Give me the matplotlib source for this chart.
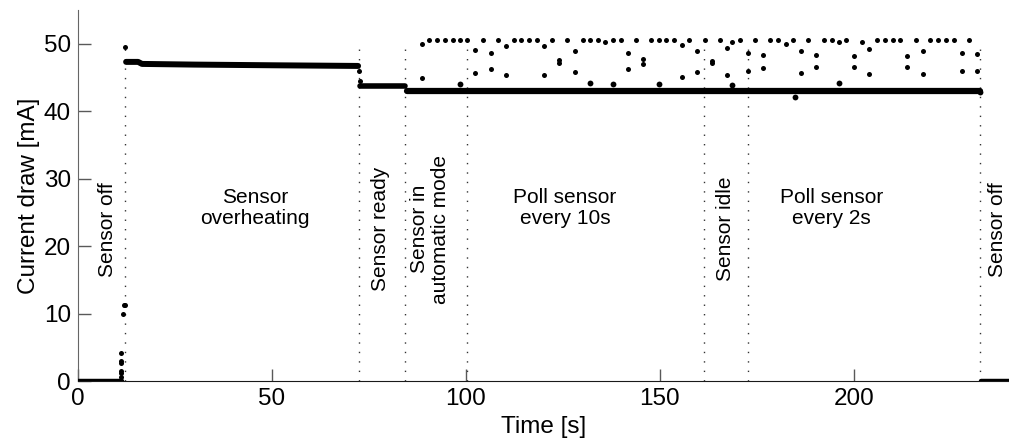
import numpy as np
import matplotlib.pyplot as plt

plt.rcParams["font.family"] = ["Liberation Sans", "DejaVu Sans"]

# continuous parts of the trace: (time [s], current [mA]) breakpoints
seg_t = [[0, 11.3], [12.4, 15.5, 16.5, 30, 50, 72.2], [72.8, 84.2],
         [84.7, 232.5], [232.8, 240]]
seg_i = [[0, 0], [47.3, 47.3, 47.0, 46.9, 46.8, 46.7], [43.8, 43.8],
         [42.95, 42.95], [0, 0]]
seg_w = [3.2, 4.3, 4.0, 4.5, 3.2]

# isolated samples (sensor start-up and the polling spikes)
rise_t = [11.0, 11.05, 11.1, 11.1, 11.05, 11.15, 11.7, 11.9, 12.0, 12.2, 72.4, 72.7]
rise_i = [4.1, 2.9, 2.6, 1.5, 0.6, 1.2, 10.0, 11.2, 11.3, 49.5, 46.0, 44.4]

top_t = [90.5, 92.6, 94.6, 96.6, 98.5, 100.4, 104.5, 108.3, 112.4, 114.3,
         116.3, 118.2, 122.2, 126.1, 130.1, 132.0, 134.1, 135.8, 138.0, 139.9,
         143.8, 147.8, 149.8, 151.7, 153.6, 157.6, 161.6, 165.5, 168.7, 170.6,
         174.5, 178.5, 180.5, 182.5, 184.4, 188.2, 192.3, 194.3, 196.2, 198.1,
         202.1, 206.0, 208.0, 210.0, 211.8, 215.9, 219.7, 221.8, 223.7, 225.8,
         229.8]
top_i = [50.5, 50.5, 50.5, 50.5, 50.5, 50.5, 50.5, 50.5, 50.5, 50.5,
         50.5, 50.5, 50.5, 50.5, 50.5, 50.5, 50.5, 50.2, 50.5, 50.5,
         50.5, 50.5, 50.5, 50.5, 50.5, 50.5, 50.5, 50.5, 50.3, 50.5,
         50.5, 50.5, 50.5, 50.0, 50.5, 50.5, 50.5, 50.5, 50.3, 50.5,
         50.2, 50.5, 50.5, 50.5, 50.5, 50.5, 50.5, 50.5, 50.5, 50.5,
         50.5]

mid_t = [88.6, 88.6, 102.3, 102.3, 106.4, 106.4, 110.3, 110.3, 120.2, 120.2,
         124.0, 124.0, 128.1, 128.1, 141.9, 141.9, 145.7, 145.7, 155.6, 155.6,
         159.6, 159.6, 163.5, 163.5, 167.4, 167.4, 172.6, 172.6, 176.5, 176.5,
         186.3, 186.3, 190.2, 190.2, 200.1, 200.1, 203.9, 203.9, 213.8, 213.8,
         217.9, 217.9, 227.8, 227.8, 231.7, 231.7]
mid_i = [49.9, 44.9, 49.1, 45.7, 48.6, 46.2, 49.7, 45.3, 49.7, 45.3,
         47.6, 47.1, 48.9, 45.8, 48.6, 46.2, 47.8, 47.0, 49.8, 45.1,
         48.9, 45.8, 47.5, 47.2, 49.4, 45.4, 48.6, 45.9, 48.3, 46.4,
         48.9, 45.7, 48.3, 46.5, 48.2, 46.6, 49.2, 45.5, 48.2, 46.6,
         48.9, 45.5, 48.6, 45.9, 48.5, 46.0]

bump_t = [98.5, 132.0, 138.0, 149.8, 168.7, 184.8, 196.2, 232.5]
bump_i = [44.0, 44.1, 44.0, 44.0, 43.9, 42.1, 44.1, 42.8]

# phase boundaries and labels
phase_t = [12.2, 72.4, 84.4, 100.3, 161.3, 172.8, 232.5]
label_t = [7.7, 45.6, 78.1, 90.7, 125.5, 167.0, 194.3, 237.0]
label_txt = ["Sensor off", "Sensor\noverheating", "Sensor ready",
             "Sensor in\nautomatic mode", "Poll sensor\nevery 10s",
             "Sensor idle", "Poll sensor\nevery 2s", "Sensor off"]
label_rot = [90, 0, 90, 90, 0, 90, 0, 90]

fig = plt.figure(figsize=(10.09, 4.46), dpi=100)
ax = fig.add_axes([0.0773, 0.1457, 0.9227, 0.832])

for t in phase_t:
    ax.plot([t, t], [0, 50], color="0.2", lw=1.0, ls=(0, (1, 5.8)), zorder=1)

for st, si, w in zip(seg_t, seg_i, seg_w):
    ax.plot(st, si, color="black", lw=w, solid_capstyle="round", zorder=3)

ms = 3.6
ax.plot(rise_t, rise_i, "o", color="black", ms=ms, mew=0, zorder=3)
ax.plot(top_t, top_i, "o", color="black", ms=ms, mew=0, zorder=3)
ax.plot(mid_t, mid_i, "o", color="black", ms=ms, mew=0, zorder=3)
ax.plot(bump_t, bump_i, "o", color="black", ms=ms + 0.6, mew=0, zorder=3)

for t, txt, rot in zip(label_t, label_txt, label_rot):
    ax.text(t, 22.5 if rot else 25.6, txt, rotation=rot, ha="center",
            va="center", fontsize=15, linespacing=1.15, multialignment="center")

ax.set_xlim(0, 240)
ax.set_ylim(0, 55)
ax.set_xticks([0, 50, 100, 150, 200])
ax.set_yticks([0, 10, 20, 30, 40, 50])
ax.tick_params(direction="in", length=9, width=1, colors="0.35",
               labelcolor="black", labelsize=17.5, pad=5)
ax.spines["top"].set_visible(False)
ax.spines["right"].set_visible(False)
ax.spines["left"].set_color("0.4")
ax.spines["bottom"].set_color("0.1")
ax.set_xlabel("Time [s]", fontsize=17.5, labelpad=4)
ax.set_ylabel("Current draw [mA]", fontsize=17.5, labelpad=3)

fig.savefig("out.png", dpi=100)
